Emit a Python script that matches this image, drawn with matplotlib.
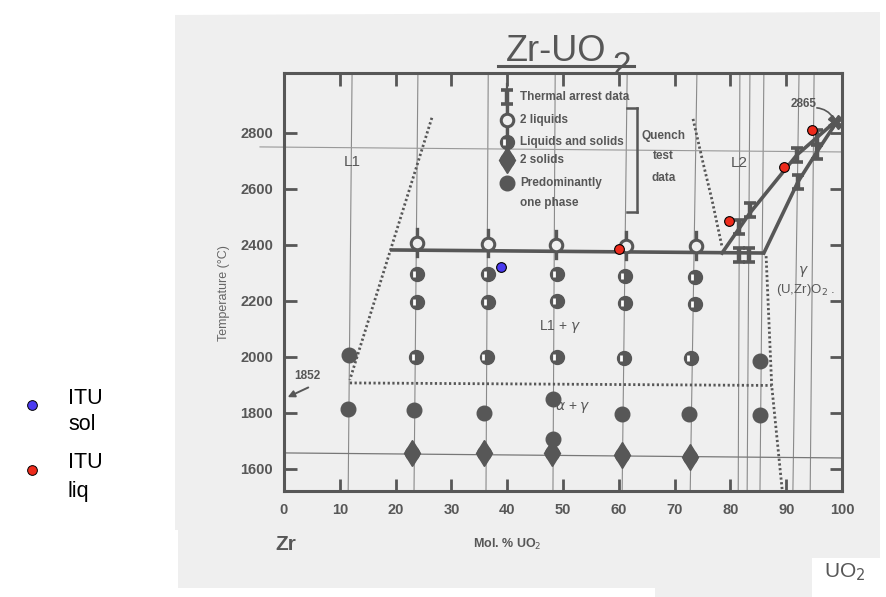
import matplotlib
matplotlib.use("Agg")
import matplotlib.pyplot as plt
from matplotlib.lines import Line2D
from matplotlib.patches import Polygon

# ---------------- data ----------------
x_ticks = [0, 10, 20, 30, 40, 50, 60, 70, 80, 90, 100]
y_ticks = [1600, 1800, 2000, 2200, 2400, 2600, 2800]

# thin vertical guide lines (composition of samples), (x at bottom, x at top)
guide_bottom = [11.5, 23.3, 36.2, 48.2, 60.6, 72.8, 81.4, 83.0, 85.3, 91.2, 94.3]
guide_top = [12.2, 24.0, 36.6, 48.6, 61.5, 74.0, 81.7, 83.5, 86.0, 92.3, 95.0]

# 2 liquids (open circles)
liq2_x = [23.8, 36.6, 48.7, 61.3, 73.8]
liq2_t = [2407, 2404, 2400, 2396, 2396]

# liquids and solids (half circles)
ls_x = [23.9, 36.6, 49.0, 61.1, 73.6, 23.9, 36.6, 48.9, 61.1, 73.6,
        23.7, 36.3, 48.9, 60.9, 72.9]
ls_t = [2296, 2296, 2296, 2289, 2286, 2196, 2196, 2200, 2193, 2189,
        2000, 2000, 2000, 1996, 1996]

# predominantly one phase
one_x = [11.6, 85.3, 11.5, 23.3, 35.8, 48.2, 60.6, 72.6, 85.3, 48.2]
one_t = [2007, 1986, 1814, 1811, 1800, 1850, 1796, 1796, 1793, 1707]

# 2 solids
sol2_x = [22.9, 35.8, 48.0, 60.6, 72.8]
sol2_t = [1657, 1657, 1657, 1650, 1643]

# thermal arrest data
ta_x = [81.5, 83.3, 81.5, 83.5, 91.9, 92.1, 95.5, 95.5]
ta_t = [2364, 2364, 2464, 2525, 2721, 2625, 2786, 2732]

# phase boundaries
mono_x = [19.0, 86.0]
mono_t = [2382, 2371]
liquidus_x = [78.5, 83.5, 91.9, 98.7]
liquidus_t = [2371, 2514, 2721, 2839]
solidus_x = [86.0, 92.1, 95.5, 98.7]
solidus_t = [2371, 2625, 2732, 2829]

dot_l1_x = [26.5, 11.8]
dot_l1_t = [2854, 1918]
dot_h_x = [11.8, 87.4]
dot_h_t = [1907, 1898]
dot_v_x = [86.4, 87.4, 89.3]
dot_v_t = [2360, 1898, 1521]
dot_l2_x = [73.3, 75.1, 76.7, 78.5]
dot_l2_t = [2850, 2693, 2561, 2393]

# ITU measurements
itu_sol_x = [38.8]
itu_sol_t = [2322]
itu_liq_x = [60.0, 79.7, 89.6, 94.6]
itu_liq_t = [2386, 2486, 2679, 2811]

# ---------------- styles ----------------
INK = '#575757'
LIGHT = '#8a8a8a'
PAGE = '#efefef'
BLUE = '#4a3af0'
RED = '#ee2b1c'
FONT = ['Liberation Sans', 'DejaVu Sans']

W, H = 887, 597
fig = plt.figure(figsize=(W / 100, H / 100), dpi=100)
fig.patch.set_facecolor('white')


def P(x, y):
    return (x / W, 1 - y / H)


# scanned page background
page = Polygon([P(175, 15), P(880, 12), P(880, 558), P(812, 558), P(812, 597),
                P(655, 597), P(655, 588), P(178, 588), P(178, 530), P(175, 530)],
               closed=True, transform=fig.transFigure, facecolor=PAGE,
               edgecolor='none', zorder=-5)
fig.patches.append(page)

ax = fig.add_axes([284 / W, 1 - 491 / H, (842 - 284) / W, (491 - 73) / H])
ax.set_zorder(2)
ax.set_facecolor('none')
ax.set_xlim(0, 100)
ax.set_ylim(1521, 3014)
for s in ax.spines.values():
    s.set_color(INK)
    s.set_linewidth(2.2)

ax.set_xticks(x_ticks)
ax.set_yticks(y_ticks)
ax.tick_params(axis='both', which='both', direction='in', length=9, width=2,
               color=INK, top=True, right=True, labelcolor=INK, labelsize=10.5)
ax.tick_params(axis='x', pad=9)
ax.tick_params(axis='y', pad=8)
for lab in ax.get_xticklabels() + ax.get_yticklabels():
    lab.set_fontweight('bold')
    lab.set_family(FONT)

# guide lines
for xb, xt in zip(guide_bottom, guide_top):
    ax.plot([xb, xt], [1521, 3014], color=LIGHT, lw=0.8, zorder=1)
ax.plot([-4.3, 100], [2750, 2732], color='#999999', lw=0.8, zorder=1, clip_on=False)
ax.plot([0, 100], [1657, 1639], color='#777777', lw=0.9, zorder=1)

# phase boundaries
ax.plot(mono_x, mono_t, color=INK, lw=2.6, zorder=3, solid_capstyle='butt')
ax.plot(liquidus_x, liquidus_t, color=INK, lw=2.6, zorder=3)
ax.plot(solidus_x, solidus_t, color=INK, lw=2.6, zorder=3)
dot = dict(color=INK, lw=2.0, ls=(0, (0.8, 0.9)), zorder=2)
ax.plot(dot_l1_x, dot_l1_t, **dot)
ax.plot(dot_h_x, dot_h_t, **dot)
ax.plot(dot_v_x, dot_v_t, **dot)
ax.plot(dot_l2_x, dot_l2_t, **dot)


def liq2(xs, ts):
    for x, t in zip(xs, ts):
        ax.plot([x, x], [t - 45, t + 50], color=INK, lw=2.4, zorder=4)
    ax.plot(xs, ts, 'o', ms=9, mfc=PAGE, mec=INK, mew=2.2, zorder=5, ls='none')


def halfc(xs, ts):
    ax.plot(xs, ts, 'o', ms=10, mfc=INK, mec=INK, zorder=5, ls='none')
    ax.plot([x - 0.55 for x in xs], ts, marker='|', ms=5, mew=2, color='white',
            zorder=6, ls='none')


def onec(xs, ts):
    ax.plot(xs, ts, 'o', ms=10.5, mfc=INK, mec=INK, zorder=5, ls='none')


def sol2(xs, ts):
    ax.plot(xs, ts, 'd', ms=13, mfc=INK, mec=INK, zorder=5, ls='none')
    ax.plot(xs, ts, 'o', ms=10, mfc=INK, mec=INK, zorder=5, ls='none')


def tarr(xs, ts):
    ax.errorbar(xs, ts, yerr=25, fmt='none', ecolor=INK, elinewidth=3.2,
                capsize=4, capthick=2.6, zorder=5)


liq2(liq2_x, liq2_t)
halfc(ls_x, ls_t)
onec(one_x, one_t)
sol2(sol2_x, sol2_t)
tarr(ta_x, ta_t)
ax.plot([98.7], [2839], marker='X', ms=10, color=INK, zorder=5)

# legend inside the scanned diagram
lx = 40.0
ax.plot([lx, lx], [2700, 2975], color=INK, lw=1.6, zorder=4)
tarr([lx], [2929])
liq2([lx], [2846])
halfc([lx], [2768])
sol2([lx], [2704])
onec([lx], [2621])
leg_items = [("Thermal arrest data", 2929), ("2 liquids", 2846),
             ("Liquids and solids", 2768), ("2 solids", 2704),
             ("Predominantly", 2621), ("one phase", 2550)]
for txt, t in leg_items:
    ax.text(lx + 2.3, t, txt, fontsize=8.5, fontweight='bold', color=INK,
            va='center', ha='left', family=FONT)
ax.plot([63.2, 63.2], [2889, 2518], color=INK, lw=1.8, zorder=4)
ax.plot([61.5, 63.2], [2889, 2889], color=INK, lw=1.8, zorder=4)
ax.plot([61.5, 63.2], [2518, 2518], color=INK, lw=1.8, zorder=4)
for txt, t in [("Quench", 2790), ("test", 2718), ("data", 2640)]:
    ax.text(68.0, t, txt, fontsize=8.5, fontweight='bold', color=INK,
            va='center', ha='center', family=FONT)

# region labels
lab = dict(color=INK, ha='center', va='center', family=FONT)
ax.text(12.2, 2696, 'L1', fontsize=11, **lab)
ax.text(81.5, 2693, 'L2', fontsize=11, **lab)
ax.text(49.5, 2107, r'L1 + $\gamma$', fontsize=10, **lab)
ax.text(51.8, 1818, r'$\alpha$ + $\gamma$', fontsize=10, **lab)
ax.text(93.0, 2304, r'$\gamma$', fontsize=10, **lab)
ax.text(93.5, 2240, r'(U,Zr)O$_2$ .', fontsize=9.5, **lab)
ax.text(93.2, 2905, '2865', fontsize=8.5, fontweight='bold', **lab)
ax.annotate('', xy=(98.7, 2845), xytext=(95.0, 2890),
            arrowprops=dict(arrowstyle='-', color=INK, lw=1.2,
                            connectionstyle='arc3,rad=-0.3'))
ax.text(4.2, 1930, '1852', fontsize=8.5, fontweight='bold', **lab)
ax.annotate('', xy=(0.2, 1852), xytext=(4.8, 1895),
            arrowprops=dict(arrowstyle='-|>', color=INK, lw=1.4,
                            mutation_scale=10))

# ITU points
ax.plot(itu_sol_x, itu_sol_t, 'o', ms=7, mfc=BLUE, mec='black', mew=0.8,
        zorder=8, ls='none')
ax.plot(itu_liq_x, itu_liq_t, 'o', ms=7, mfc=RED, mec='black', mew=0.8,
        zorder=8, ls='none')

# axis texts
fig.text(*P(224, 293), 'Temperature (°C)', rotation=90, fontsize=9,
         color='#666666', ha='center', va='center', family=FONT)
fig.text(*P(507, 544), r'Mol. % UO$_2$', fontsize=9, fontweight='bold',
         color=INK, ha='center', va='center', family=FONT)
fig.text(*P(286, 545), 'Zr', fontsize=15, fontweight='bold', color=INK,
         ha='center', va='center', family=FONT)
fig.text(*P(845, 572), r'UO$_2$', fontsize=15, color=INK,
         ha='center', va='center', family=FONT)

# title
fig.text(*P(506, 61), 'Zr-UO', fontsize=26, color=INK, ha='left',
         va='baseline', family=FONT)
fig.text(*P(612, 75), '2', fontsize=24, color=INK, ha='left',
         va='baseline', family=FONT)
fig.add_artist(Line2D([498 / W, 634 / W], [1 - 66 / H, 1 - 66 / H],
                      color=INK, lw=2.2, transform=fig.transFigure))

# slide legend
fig.add_artist(Line2D([32 / W], [1 - 405 / H], marker='o', ms=7, mfc=BLUE,
                      mec='black', mew=0.7, transform=fig.transFigure))
fig.add_artist(Line2D([32 / W], [1 - 470 / H], marker='o', ms=7, mfc=RED,
                      mec='black', mew=0.7, transform=fig.transFigure))
for txt, y in [('ITU', 398), ('sol', 425), ('ITU', 463), ('liq', 491)]:
    fig.text(*P(68, y), txt, fontsize=15.5, color='black', ha='left',
             va='center', family=FONT)

fig.savefig('out.png', dpi=100)
